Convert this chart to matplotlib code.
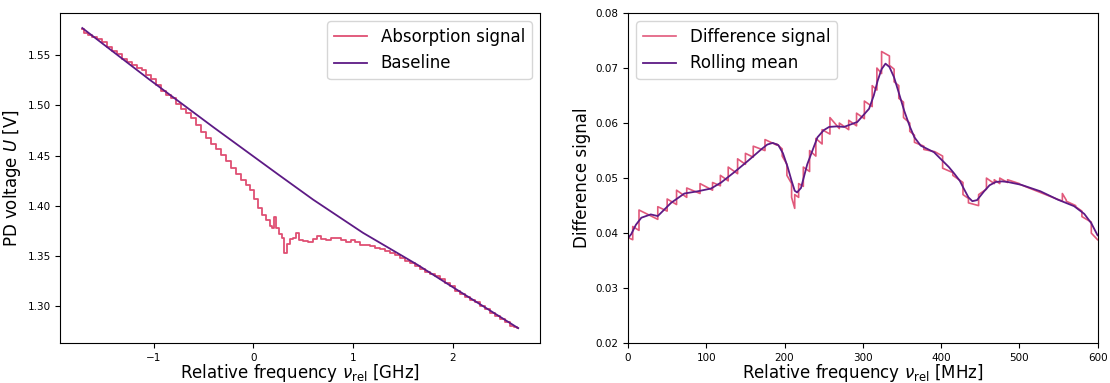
import matplotlib
matplotlib.use("Agg")
import matplotlib.pyplot as plt

# ---- left panel: absorption signal vs baseline ----
freq_ghz = [-1.72, -1.68, -1.64, -1.60, -1.55, -1.50, -1.45, -1.40, -1.35, -1.30,
            -1.25, -1.20, -1.15, -1.10, -1.05, -1.00, -0.95, -0.90, -0.85, -0.80,
            -0.75, -0.70, -0.65, -0.60, -0.55, -0.50, -0.45, -0.40, -0.35, -0.30,
            -0.25, -0.20, -0.15, -0.10, -0.05, -0.01, 0.03, 0.07, 0.11, 0.15,
            0.18, 0.20, 0.22, 0.24, 0.27, 0.30, 0.32, 0.35, 0.38, 0.41,
            0.44, 0.47, 0.52, 0.57, 0.62, 0.66, 0.70, 0.75, 0.80, 0.85,
            0.90, 0.95, 1.00, 1.05, 1.10, 1.15, 1.20, 1.25, 1.30, 1.35,
            1.40, 1.45, 1.50, 1.55, 1.60, 1.65, 1.70, 1.75, 1.80, 1.85,
            1.90, 1.95, 2.00, 2.05, 2.10, 2.15, 2.20, 2.25, 2.30, 2.35,
            2.40, 2.45, 2.50, 2.55, 2.60, 2.63, 2.66]
absorption = [1.576, 1.572, 1.570, 1.568, 1.566, 1.563, 1.558, 1.554, 1.551, 1.546,
              1.543, 1.540, 1.537, 1.535, 1.530, 1.526, 1.520, 1.514, 1.510, 1.507,
              1.501, 1.496, 1.492, 1.487, 1.480, 1.473, 1.467, 1.461, 1.456, 1.451,
              1.445, 1.438, 1.432, 1.426, 1.421, 1.416, 1.407, 1.398, 1.391, 1.386,
              1.380, 1.378, 1.389, 1.378, 1.372, 1.368, 1.353, 1.362, 1.367, 1.368,
              1.373, 1.366, 1.365, 1.364, 1.367, 1.370, 1.367, 1.366, 1.368, 1.368,
              1.366, 1.364, 1.366, 1.364, 1.361, 1.361, 1.360, 1.358, 1.357, 1.355,
              1.353, 1.351, 1.348, 1.345, 1.343, 1.340, 1.337, 1.334, 1.332, 1.330,
              1.327, 1.323, 1.320, 1.315, 1.312, 1.309, 1.306, 1.304, 1.300, 1.297,
              1.293, 1.290, 1.287, 1.284, 1.280, 1.279, 1.278]
base_ghz = [-1.72, -1.05, -0.40, 0.25, 0.60, 1.10, 1.65, 2.00, 2.66]
baseline = [1.577, 1.526, 1.478, 1.431, 1.406, 1.373, 1.341, 1.319, 1.278]

# ---- right panel: difference signal and rolling mean ----
# step intervals (start MHz, end MHz, value at start, value at end)
step_x0 = [0, 6, 14, 38, 50, 62, 75, 92, 108, 118, 128, 140, 150, 160, 175, 190,
           197, 203, 209, 213, 218, 224, 232, 240, 248, 258, 270, 282, 292, 302,
           312, 318, 324, 334, 340, 346, 352, 360, 366, 378, 392, 402, 415, 428,
           435, 448, 458, 468, 475, 485, 500, 555, 560, 572, 580, 592]
step_x1 = [6, 14, 38, 50, 62, 75, 92, 108, 118, 128, 140, 150, 160, 175, 190, 197,
           203, 209, 213, 218, 224, 232, 240, 248, 258, 270, 282, 292, 302, 312,
           318, 324, 334, 340, 346, 352, 360, 366, 378, 392, 402, 415, 428, 435,
           448, 458, 468, 475, 485, 500, 555, 560, 572, 580, 592, 600]
step_y0 = [0.0392, 0.0412, 0.0442, 0.0448, 0.0462, 0.0478, 0.0482, 0.0490, 0.0492,
           0.0505, 0.0520, 0.0535, 0.0545, 0.0558, 0.0570, 0.0562, 0.0540, 0.0505,
           0.0465, 0.0470, 0.0490, 0.0520, 0.0550, 0.0572, 0.0588, 0.0610, 0.0600,
           0.0605, 0.0618, 0.0640, 0.0668, 0.0700, 0.0730, 0.0705, 0.0675, 0.0645,
           0.0610, 0.0585, 0.0565, 0.0552, 0.0548, 0.0518, 0.0505, 0.0470, 0.0455,
           0.0470, 0.0500, 0.0497, 0.0500, 0.0497, 0.0489, 0.0472, 0.0458, 0.0448,
           0.0430, 0.0400]
step_y1 = [0.0388, 0.0405, 0.0425, 0.0440, 0.0452, 0.0465, 0.0472, 0.0478, 0.0486,
           0.0495, 0.0508, 0.0525, 0.0538, 0.0550, 0.0560, 0.0553, 0.0525, 0.0490,
           0.0445, 0.0465, 0.0485, 0.0512, 0.0540, 0.0562, 0.0580, 0.0590, 0.0588,
           0.0595, 0.0608, 0.0630, 0.0660, 0.0690, 0.0722, 0.0698, 0.0668, 0.0638,
           0.0600, 0.0578, 0.0558, 0.0548, 0.0540, 0.0510, 0.0492, 0.0463, 0.0450,
           0.0480, 0.0490, 0.0490, 0.0492, 0.0490, 0.0458, 0.0460, 0.0450, 0.0440,
           0.0420, 0.0388]

mean_mhz = [0, 4, 10, 17, 29, 38, 55, 72, 89, 106, 119, 136, 153, 170, 178, 185,
            192, 198, 204, 209, 213, 216, 221, 229, 242, 250, 257, 267, 276, 293,
            308, 314, 319, 324, 329, 334, 340, 346, 353, 360, 366, 374, 391, 410,
            417, 424, 429, 435, 440, 446, 455, 462, 470, 478, 485, 502, 527, 549,
            570, 583, 592, 600]
rolling_mean = [0.0391, 0.0398, 0.0415, 0.0428, 0.0434, 0.0431, 0.0455, 0.0472,
                0.0476, 0.0481, 0.0492, 0.0511, 0.0531, 0.0552, 0.0561, 0.0564,
                0.0560, 0.0545, 0.0520, 0.0495, 0.0477, 0.0474, 0.0482, 0.0525,
                0.0574, 0.0587, 0.0593, 0.0594, 0.0593, 0.0602, 0.0626, 0.0650,
                0.0677, 0.0698, 0.0708, 0.0702, 0.0683, 0.0655, 0.0622, 0.0594,
                0.0574, 0.0559, 0.0547, 0.0520, 0.0508, 0.0495, 0.0481, 0.0465,
                0.0458, 0.0460, 0.0476, 0.0487, 0.0493, 0.0494, 0.0493, 0.0488,
                0.0476, 0.0461, 0.0449, 0.0435, 0.0418, 0.0396]

red = "#dc3c64"
purple = "#5d1a85"

# assemble the stepped difference signal from the interval lists
diff_x, diff_y = [], []
for a, b, ya, yb in zip(step_x0, step_x1, step_y0, step_y1):
    diff_x += [a, b]
    diff_y += [ya, yb]

fig = plt.figure(figsize=(11.1, 3.83), dpi=100)
ax1 = fig.add_axes([0.0545, 0.104, 0.432, 0.862])
ax2 = fig.add_axes([0.5658, 0.104, 0.4230, 0.862])

ax1.plot(freq_ghz, absorption, color=red, lw=1.3, alpha=0.9,
         drawstyle="steps-mid", label="Absorption signal")
ax1.plot(base_ghz, baseline, color=purple, lw=1.3, label="Baseline")
ax1.set_xlabel(r"Relative frequency $\nu_\mathrm{rel}$ [GHz]", fontsize=12, labelpad=-0.5)
ax1.set_ylabel(r"PD voltage $U$ [V]", fontsize=12, labelpad=3)
ax1.set_xticks([-1, 0, 1, 2])
ax1.set_yticks([1.30, 1.35, 1.40, 1.45, 1.50, 1.55])
ax1.tick_params(labelsize=7.5)
ax1.legend(loc="upper right", fontsize=12)

ax2.plot(diff_x, diff_y, color=red, lw=1.2, alpha=0.85, label="Difference signal")
ax2.plot(mean_mhz, rolling_mean, color=purple, lw=1.3, label="Rolling mean")
ax2.set_xlim(0, 600)
ax2.set_ylim(0.02, 0.08)
ax2.set_xlabel(r"Relative frequency $\nu_\mathrm{rel}$ [MHz]", fontsize=12, labelpad=-0.5)
ax2.set_ylabel("Difference signal", fontsize=12, labelpad=3)
ax2.tick_params(labelsize=7.5)
ax2.legend(loc="upper left", fontsize=12)

fig.savefig("out.png", dpi=100)
